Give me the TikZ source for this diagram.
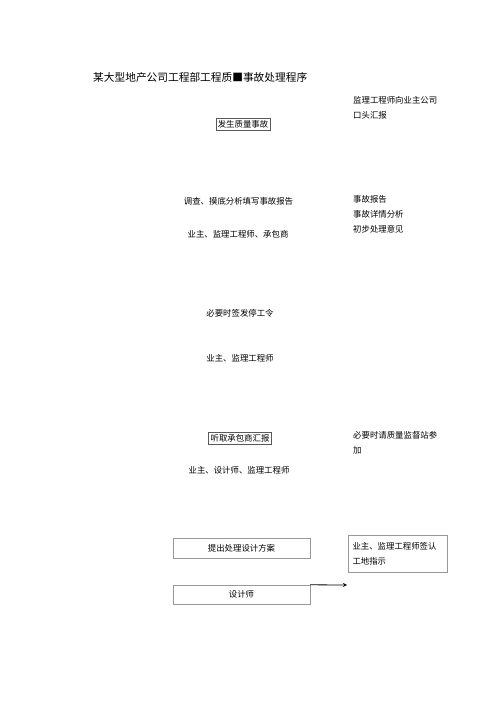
\documentclass[tikz,border=0pt]{standalone}
\usepackage{fontspec}
\newfontfamily\cjk{Noto Sans CJK SC}
\begin{document}
\begin{tikzpicture}[x=1pt, y=-1pt,
        txt/.style={font=\cjk\fontsize{8.4}{15}\selectfont, inner sep=0pt},
        note/.style={txt, anchor=north west, align=left},
        frame/.style={txt, draw=gray!70!black, inner sep=2pt},
        wide/.style={txt, draw=gray!80, minimum width=137pt, minimum height=20pt},
        arrow/.style={->, >=stealth, thick}
    ]
        \useasboundingbox (0,0) rectangle (500,707);

        % Title
        \node[anchor=west, inner sep=0pt, font=\cjk\fontsize{10.7}{13}\selectfont] (title) at (93,77)
            {某大型地产公司工程部工程质■事故处理程序};

        % Accident
        \node[frame] (accident) at (243,124) {发生质量事故};
        \node[note] (verbal) at (353,96) {监理工程师向业主公司\\口头汇报};

        % Investigation
        \node[txt] (survey) at (238.5,201) {调查、摸底分析填写事故报告};
        \node[note] (report) at (353,195) {事故报告\\事故详情分析\\初步处理意见};
        \node[txt] (parties1) at (238,234) {业主、监理工程师、承包商};

        % Stop order
        \node[txt] (stop) at (240,313) {必要时签发停工令};
        \node[txt] (parties2) at (240,358) {业主、监理工程师};

        % Contractor report
        \node[frame] (hear) at (240,438) {听取承包商汇报};
        \node[note] (supervise) at (353,431) {必要时请质量监督站参\\加};
        \node[txt] (parties3) at (239,470) {业主、设计师、监理工程师};

        % Design plan
        \node[wide] (plan) at (241.5,548) {提出处理设计方案};
        \node[wide, minimum height=19pt] (designer) at (241.5,594.5) {设计师};
        \node[txt, draw=gray!80, minimum width=99pt, minimum height=37pt,
              text width=90pt, align=left] (sign) at (397.5,553.5)
            {业主、监理工程师签认\\工地指示};

        % Arrow
        \coordinate (tip) at (347,585);
        \draw[arrow] (designer.north east) -- (tip);
    \end{tikzpicture}
\end{document}
